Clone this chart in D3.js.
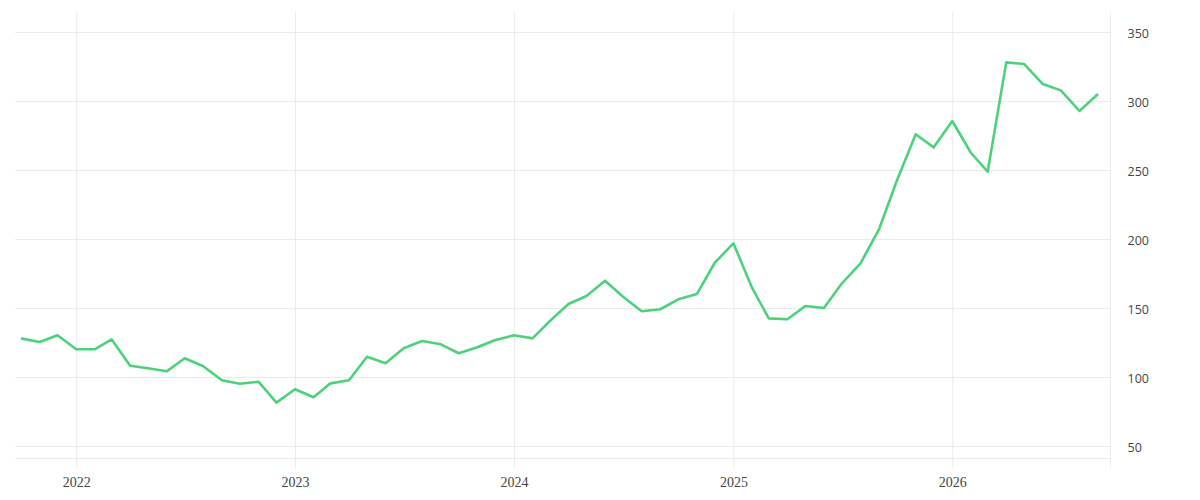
<!DOCTYPE html>
<html>
<head>
<meta charset="utf-8">
<script src="https://cdn.jsdelivr.net/npm/d3@7"></script>
<style>
  html, body { margin: 0; padding: 0; background: #fff; }
  svg { display: block; }
  .grid line, .grid path { stroke: #ebebeb; }
  .x-axis text { font-family: 'Liberation Serif', serif; font-size: 14px; fill: #444; }
  .y-axis text { font-family: 'Open Sans', sans-serif; font-size: 12.5px; fill: #444; }
</style>
</head>
<body>
<svg id="chart"></svg>
<script>
const width = 1200
const height = 500

// monthly values, Oct 2021 .. Sep 2026
const startMonth = '2021-10'
const values = [
  128.0, 125.4, 130.2, 120.1, 120.1, 127.3, 108.2, 106.3, 104.1, 113.6, 107.8, 97.6,
  95.1, 96.6, 81.4, 91.1, 85.3, 95.4, 97.6, 114.7, 109.9, 120.8, 126.1, 123.7,
  117.2, 121.5, 126.8, 130.2, 128.0, 140.6, 152.9, 158.7, 169.8, 158.2, 147.6, 149.1,
  156.3, 160.1, 182.8, 196.9, 164.7, 142.5, 141.8, 151.4, 150.0, 167.9, 182.4, 207.2,
  242.8, 275.9, 266.4, 285.5, 262.5, 248.8, 328.0, 326.8, 312.3, 307.7, 292.8, 305.1,
]
const yTicks = [50, 100, 150, 200, 250, 300, 350]
const xTickYears = [2022, 2023, 2024, 2025, 2026]

const parseMonth = d3.timeParse('%Y-%m')
const first = parseMonth(startMonth)
const data = values.map((v, i) => ({ date: d3.timeMonth.offset(first, i), value: v }))

const plot = { left: 15, right: 1110, top: 12, bottom: 458 }

const x = d3.scaleTime()
  .domain([new Date(2021, 8, 21), new Date(2026, 8, 21)])
  .range([plot.left, plot.right])

const y = d3.scaleLinear()
  .domain([41.3, 364.5])
  .range([plot.bottom, plot.top])

const svg = d3.select('#chart').attr('width', width).attr('height', height)

// vertical grid + year labels
const xAxis = svg.append('g')
  .attr('class', 'x-axis grid')
  .attr('transform', `translate(0,${plot.bottom + 10})`)
  .call(
    d3.axisBottom(x)
      .tickValues(xTickYears.map((yr) => new Date(yr, 0, 1)))
      .tickFormat(d3.timeFormat('%Y'))
      .tickSize(plot.bottom + 10 - plot.top)
      .tickSizeOuter(0),
  )
xAxis.select('.domain').remove()
xAxis.selectAll('.tick line')
  .attr('y1', 0)
  .attr('y2', -(plot.bottom + 10 - plot.top))
xAxis.selectAll('.tick text').attr('y', 9)

// horizontal grid
svg.append('g')
  .attr('class', 'grid')
  .selectAll('line')
  .data(yTicks.concat([y.domain()[0]]))
  .join('line')
  .attr('x1', plot.left)
  .attr('x2', plot.right)
  .attr('y1', (d) => Math.round(y(d)) + 0.5)
  .attr('y2', (d) => Math.round(y(d)) + 0.5)

// right axis
const yAxis = svg.append('g')
  .attr('class', 'y-axis grid')
  .attr('transform', `translate(${plot.right + 0.5},0)`)
  .call(d3.axisRight(y).tickValues(yTicks).tickSize(0).tickPadding(17))
yAxis.select('.domain').attr('d', `M0,${plot.top}V${plot.bottom + 10}`)
yAxis.selectAll('.tick text').attr('y', 1.5)

const line = d3.line()
  .x((d) => x(d.date))
  .y((d) => y(d.value))

svg.append('path')
  .datum(data)
  .attr('fill', 'none')
  .attr('stroke', '#4dd27b')
  .attr('stroke-width', 2.6)
  .attr('stroke-linejoin', 'round')
  .attr('d', line)
</script>
</body>
</html>
